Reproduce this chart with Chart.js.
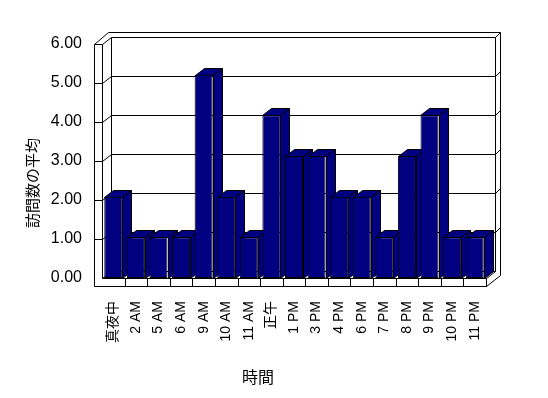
<!DOCTYPE html>
<html>
<head>
<meta charset="utf-8">
<script src="https://cdn.jsdelivr.net/npm/chart.js@4.4.0/dist/chart.umd.min.js"></script>
<style>
  html, body { margin: 0; padding: 0; background: #ffffff; }
</style>
</head>
<body>
<canvas id="chart" width="548" height="398"></canvas>
<script>
// Data
const hours = ['真夜中', '2 AM', '5 AM', '6 AM', '9 AM', '10 AM', '11 AM', '正午', '1 PM', '3 PM', '4 PM', '6 PM', '7 PM', '8 PM', '9 PM', '10 PM', '11 PM'];
const avgVisits = [2, 1, 1, 1, 5, 2, 1, 4, 3, 3, 2, 2, 1, 3, 4, 1, 1];
const yTicks = [0, 1, 2, 3, 4, 5, 6];
const xTitle = '時間';
const yTitle = '訪問数の平均';

// Look of the fake 3D box
const barColor = '#000080';
const depth = { x: 9, y: -7 };      // oblique offset front -> back
const shell = { x: 5, y: -4.5 };    // thickness of the back wall
const wall = 8;                      // thickness of left wall and floor

const px = v => Math.round(v) + 0.5;

function line(ctx, pts) {
    ctx.beginPath();
    ctx.moveTo(px(pts[0][0]), px(pts[0][1]));
    for (let i = 1; i < pts.length; i++) ctx.lineTo(px(pts[i][0]), px(pts[i][1]));
    ctx.stroke();
}

function poly(ctx, pts) {
    ctx.beginPath();
    ctx.moveTo(px(pts[0][0]), px(pts[0][1]));
    for (let i = 1; i < pts.length; i++) ctx.lineTo(px(pts[i][0]), px(pts[i][1]));
    ctx.closePath();
    ctx.fill();
    ctx.stroke();
}

const box3d = {
    id: 'box3d',
    beforeDatasetsDraw(chart) {
        const ctx = chart.ctx;
        const { left: L, right: R, bottom: B } = chart.chartArea;
        const yl = chart.scales.yl;
        const top = yl.getPixelForValue(yTicks[yTicks.length - 1]);
        const dx = depth.x, dy = depth.y;

        ctx.save();
        ctx.lineWidth = 1;
        ctx.strokeStyle = '#000000';
        ctx.fillStyle = '#ffffff';

        // outer outline of walls + floor
        poly(ctx, [
            [L - wall, B + wall],
            [L - wall, top],
            [L - wall + dx + shell.x, top + dy + shell.y],
            [R + dx + shell.x, top + dy + shell.y],
            [R + dx + shell.x, B + wall + dy + shell.y],
            [R, B + wall]
        ]);

        // inner edges
        line(ctx, [[L - wall, top], [L, top], [L, B], [R, B]]);
        line(ctx, [[L, top], [L + dx, top + dy], [R + dx, top + dy], [R + dx, B + dy], [L + dx, B + dy], [L + dx, top + dy]]);
        line(ctx, [[R + dx, top + dy], [R + dx + shell.x, top + dy + shell.y]]);
        line(ctx, [[L, B], [L + dx, B + dy]]);
        line(ctx, [[R, B], [R + dx, B + dy]]);

        // gridlines along left wall and back wall
        yTicks.slice(1, -1).forEach(v => {
            const y = yl.getPixelForValue(v);
            line(ctx, [[L - wall, y], [L, y], [L + dx, y + dy], [R + dx, y + dy], [R + dx + shell.x, y + dy + shell.y]]);
        });

        // category dividers on the floor front
        const step = (R - L) / hours.length;
        for (let i = 1; i <= hours.length; i++) {
            line(ctx, [[L + i * step, B], [L + i * step, B + wall]]);
        }

        // top and side faces of every column
        ctx.fillStyle = barColor;
        chart.getDatasetMeta(0).data.forEach(bar => {
            const { x, y, base, width } = bar.getProps(['x', 'y', 'base', 'width'], true);
            const l = x - width / 2, r = x + width / 2;
            poly(ctx, [[l, y], [l + dx, y + dy], [r + dx, y + dy], [r, y]]);
            poly(ctx, [[r, y], [r + dx, y + dy], [r + dx, base + dy], [r, base]]);
        });
        ctx.restore();
    },
    afterDraw(chart) {
        const ctx = chart.ctx;
        ctx.save();
        ctx.fillStyle = '#000000';
        ctx.textAlign = 'center';
        ctx.textBaseline = 'middle';
        ctx.font = '16px "Noto Sans CJK JP"';
        ctx.fillText(xTitle, 258, 377);
        ctx.translate(32, 183);
        ctx.rotate(-Math.PI / 2);
        ctx.font = '15px "Noto Sans CJK JP"';
        ctx.fillText(yTitle, 0, 0);
        ctx.restore();
    }
};

const ctx = document.getElementById('chart').getContext('2d');
const chart = new Chart(ctx, {
    type: 'bar',
    data: {
        labels: hours,
        datasets: [{
            label: yTitle,
            data: avgVisits,
            backgroundColor: barColor,
            borderColor: '#000000',
            borderWidth: 1,
            borderSkipped: false,
            barPercentage: 0.8,
            categoryPercentage: 1.0,
            yAxisID: 'y'
        }]
    },
    options: {
        responsive: false,
        animation: false,
        layout: {
            padding: { top: 34, right: 62, bottom: 0, left: 0 }
        },
        plugins: {
            legend: { display: false },
            tooltip: { enabled: false }
        },
        scales: {
            x: {
                grid: { display: false, drawTicks: false },
                border: { display: false },
                ticks: {
                    autoSkip: false,
                    minRotation: 90,
                    maxRotation: 90,
                    padding: 23,
                    color: '#000000',
                    font: { family: '"Liberation Sans", "Noto Sans CJK JP"', size: 14 }
                },
                afterFit: s => { s.height = 120; }
            },
            y: {
                display: false,
                min: 0,
                max: 6
            },
            yl: {
                position: 'left',
                min: 0,
                max: 6.25,
                grid: { display: false, drawTicks: false },
                border: { display: false },
                afterBuildTicks: s => { s.ticks = yTicks.map(v => ({ value: v })); },
                ticks: {
                    padding: 20,
                    color: '#000000',
                    font: { family: '"Liberation Sans"', size: 16 },
                    callback: v => Number(v).toFixed(2)
                },
                afterFit: s => { s.width = 102; }
            }
        }
    },
    plugins: [box3d]
});
</script>
</body>
</html>
